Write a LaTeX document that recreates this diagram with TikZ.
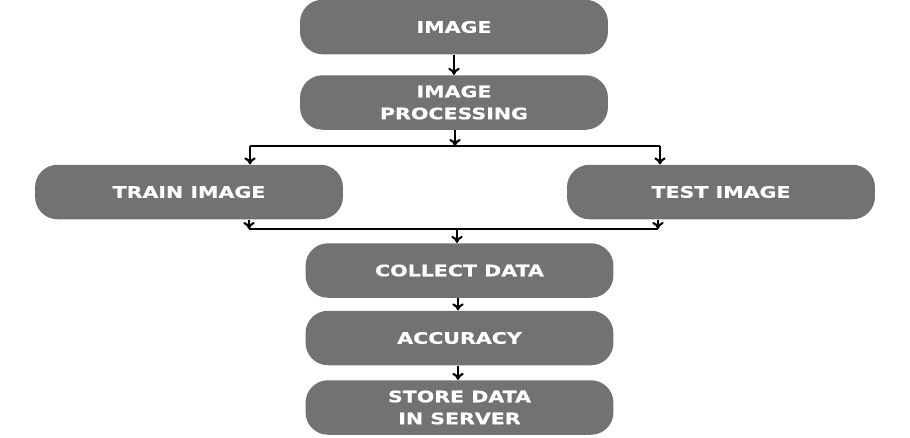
\documentclass[tikz,border=0pt]{standalone}
\usepackage{fontspec}
\setsansfont{DejaVu Sans}[FakeStretch=1.3, BoldFeatures={FakeBold=0.6}]
\usetikzlibrary{arrows.meta}
\definecolor{boxgray}{RGB}{114,114,114}
\tikzset{
  stage/.style={fill=boxgray, rounded corners=0.45cm, minimum width=6.16cm,
    minimum height=1.09cm, inner sep=0pt, align=center, text=white,
    font=\sffamily\bfseries\fontsize{9}{12.5}\selectfont},
  flow/.style={-{To[length=4pt,width=6.5pt]}, line width=1.2pt},
  joint/.style={line width=1.2pt}
}

\begin{document}
\begin{tikzpicture}[x=0.02cm, y=-0.02cm]
    \useasboundingbox (0,0) rectangle (910,437);
    \node [stage] (image) at (454,27) {IMAGE};
    \node [stage] (proc) at (454,102.5) {IMAGE\\PROCESSING};
    \node [stage] (train) at (189,192) {TRAIN IMAGE};
    \node [stage] (test) at (721,192) {TEST IMAGE};
    \node [stage] (collect) at (459.5,270.5) {COLLECT DATA};
    \node [stage] (accuracy) at (459.5,338) {ACCURACY};
    \node [stage] (store) at (459.5,407.5) {STORE DATA\\IN SERVER};

    \coordinate (split) at (455,146);
    \coordinate (splitL) at (250,146);
    \coordinate (splitR) at (660,146);
    \coordinate (merge) at (457,229);
    \coordinate (mergeL) at (249,229);
    \coordinate (mergeR) at (658,229);

    \draw [flow] (image) -- (proc);
    \draw [flow] (proc.south -| split) -- (split);
    \draw [joint] (splitL) -- (splitR);
    \draw [flow] (splitL) -- (splitL |- train.north);
    \draw [flow] (splitR) -- (splitR |- test.north);

    \draw [flow] (mergeL |- train.south) -- (mergeL);
    \draw [flow] (mergeR |- test.south) -- (mergeR);
    \draw [joint] (mergeL) -- (mergeR);
    \draw [flow] (merge) -- (merge |- collect.north);
    \draw [flow] (collect.south -| 458,0) -- (accuracy.north -| 458,0);
    \draw [flow] (accuracy.south -| 458,0) -- (store.north -| 458,0);
\end{tikzpicture}
\end{document}
